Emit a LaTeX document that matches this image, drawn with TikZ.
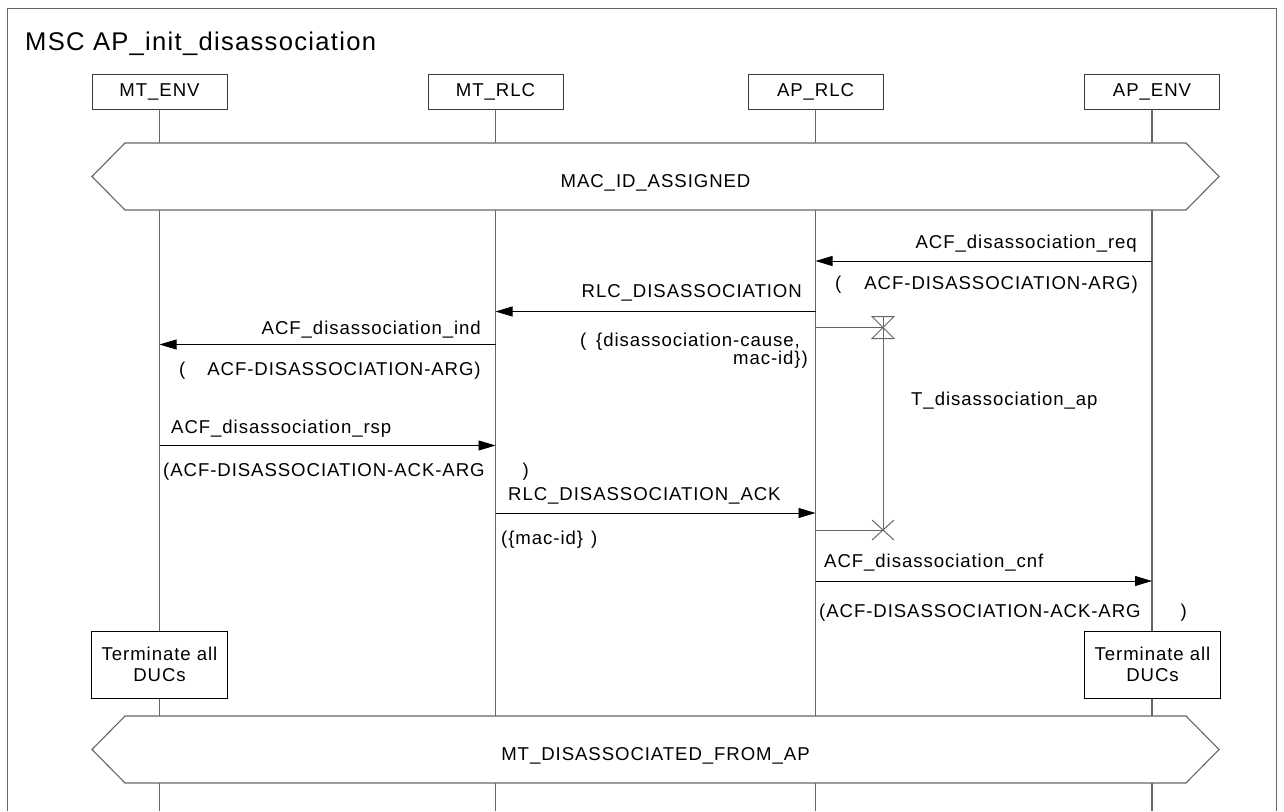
\documentclass[tikz,border=0pt]{standalone}
\usepackage{fontspec}
\setmainfont{Liberation Sans}[LetterSpace=5]
\usetikzlibrary{arrows.meta}
\definecolor{lifegray}{HTML}{666666}
\definecolor{boxgray}{HTML}{3C3C3C}

\begin{document}
\begin{tikzpicture}[x=1pt,y=-1pt,
  lbl/.style={inner sep=0pt, font=\fontsize{18.6}{20.5}\selectfont},
  inst/.style={draw=boxgray, line width=0.9pt, fill=white, minimum width=135pt,
    minimum height=35pt, inner sep=0pt, font=\fontsize{18.6}{20.5}\selectfont},
  life/.style={draw=lifegray, line width=1.1pt},
  cond/.style={draw=lifegray, line width=1.1pt, fill=white},
  frameline/.style={draw=lifegray, line width=1pt},
  msg/.style={draw=black, line width=0.8pt, -{Triangle[length=17pt,width=10pt]}},
  tline/.style={draw=lifegray, line width=1pt},
  actbox/.style={draw=black, line width=0.9pt, fill=white, minimum width=136pt,
    minimum height=67pt, align=center, inner sep=0pt,
    font=\fontsize{18.6}{20.5}\selectfont}]

\useasboundingbox (0,0) rectangle (1284,811);

% diagram frame and heading
\draw[frameline] (7.5,811) -- (7.5,8) -- (1276.5,8) -- (1276.5,811);
\node[lbl, font=\fontsize{25.6}{28}\selectfont, anchor=base west] (title) at (25,50)
  {MSC AP\_init\_disassociation};

% instance heads
\node[inst] (mtenv) at (159.5,91.5) {MT\_ENV};
\node[inst] (mtrlc) at (495.5,91.5) {MT\_RLC};
\node[inst] (aprlc) at (815.5,91.5) {AP\_RLC};
\node[inst] (apenv) at (1152,91.5) {AP\_ENV};

% lifeline ends at the lower edge
\coordinate (mtenv-end) at (159.5,811);
\coordinate (mtrlc-end) at (495.5,811);
\coordinate (aprlc-end) at (815.5,811);
\coordinate (apenv-end) at (1152,811);

\draw[life] (mtenv.south) -- (mtenv-end);
\draw[life] (mtrlc.south) -- (mtrlc-end);
\draw[life] (aprlc.south) -- (aprlc-end);
\draw[life] (apenv.south) -- (apenv-end);

% global conditions
\draw[cond] (92,176.5) -- (125,143) -- (1186,143) -- (1219,176.5) -- (1186,210)
  -- (125,210) -- cycle;
\node[lbl, anchor=base] (condA) at (655.5,187) {MAC\_ID\_ASSIGNED};

\draw[cond] (92,749.5) -- (125,716) -- (1186,716) -- (1219,749.5) -- (1186,783)
  -- (125,783) -- cycle;
\node[lbl, anchor=base] (condB) at (655.5,760) {MT\_DISASSOCIATED\_FROM\_AP};

% ACF_disassociation_req
\coordinate (req-s) at (1152,261);
\coordinate (req-e) at (815.5,261);
\draw[msg] (req-s) -- (req-e);
\node[lbl, anchor=base east] (reqL) at (1137,248) {ACF\_disassociation\_req};
\node[lbl, anchor=base west] (reqP) at (835,289)
  {(\hspace{23pt}ACF-DISASSOCIATION-ARG)};

% RLC_DISASSOCIATION
\coordinate (rd-s) at (815.5,311.5);
\coordinate (rd-e) at (495.5,311.5);
\draw[msg] (rd-s) -- (rd-e);
\node[lbl, anchor=base east] (rdL) at (802,297) {RLC\_DISASSOCIATION};
\node[lbl, anchor=base east] (rdP1) at (800,346)
  {(\hspace{10pt}\{disassociation-cause,};
\node[lbl, anchor=base east] (rdP2) at (808,364) {mac-id\})};

% ACF_disassociation_ind
\coordinate (ind-s) at (495.5,344.5);
\coordinate (ind-e) at (159.5,344.5);
\draw[msg] (ind-s) -- (ind-e);
\node[lbl, anchor=base east] (indL) at (481,334) {ACF\_disassociation\_ind};
\node[lbl, anchor=base west] (indP) at (179,375)
  {(\hspace{22pt}ACF-DISASSOCIATION-ARG)};

% timer T_disassociation_ap: set, then expiry
\coordinate (tset-s) at (815.5,327.5);
\coordinate (tset) at (883,327.5);
\coordinate (texp-s) at (815.5,530);
\coordinate (texp) at (883,530);
\draw[tline] (tset-s) -- (tset);
\draw[tline] ([xshift=-11pt,yshift=-11pt]tset) -- ([xshift=11pt,yshift=-11pt]tset)
  -- ([xshift=-11pt,yshift=11pt]tset) -- ([xshift=11pt,yshift=11pt]tset)
  -- cycle;
\draw[tline] ([yshift=11pt]tset) -- (texp);
\draw[tline] (texp-s) -- (texp);
\draw[tline] ([xshift=-11pt,yshift=-10pt]texp) -- ([xshift=11pt,yshift=10pt]texp);
\draw[tline] ([xshift=11pt,yshift=-10pt]texp) -- ([xshift=-11pt,yshift=10pt]texp);
\node[lbl, anchor=base west] (tL) at (911,405) {T\_disassociation\_ap};

% ACF_disassociation_rsp
\coordinate (rsp-s) at (159.5,445.5);
\coordinate (rsp-e) at (495.5,445.5);
\draw[msg] (rsp-s) -- (rsp-e);
\node[lbl, anchor=base west] (rspL) at (171,433) {ACF\_disassociation\_rsp};
\node[lbl, anchor=base west] (rspP) at (163,476)
  {(ACF-DISASSOCIATION-ACK-ARG\hspace{38pt})};

% RLC_DISASSOCIATION_ACK
\coordinate (ra-s) at (495.5,513);
\coordinate (ra-e) at (815.5,513);
\draw[msg] (ra-s) -- (ra-e);
\node[lbl, anchor=base west] (raL) at (508,500) {RLC\_DISASSOCIATION\_ACK};
\node[lbl, anchor=base west] (raP) at (501,544) {(\{mac-id\}\hspace{8pt})};

% ACF_disassociation_cnf
\coordinate (cnf-s) at (815.5,581);
\coordinate (cnf-e) at (1152,581);
\draw[msg] (cnf-s) -- (cnf-e);
\node[lbl, anchor=base west] (cnfL) at (824,567) {ACF\_disassociation\_cnf};
\node[lbl, anchor=base west] (cnfP) at (819,617)
  {(ACF-DISASSOCIATION-ACK-ARG\hspace{40pt})};

% local actions
\node[actbox] (termL) at (159.5,664.5) {Terminate all\\DUCs};
\node[actbox] (termR) at (1152.5,664.5) {Terminate all\\DUCs};

\end{tikzpicture}
\end{document}
